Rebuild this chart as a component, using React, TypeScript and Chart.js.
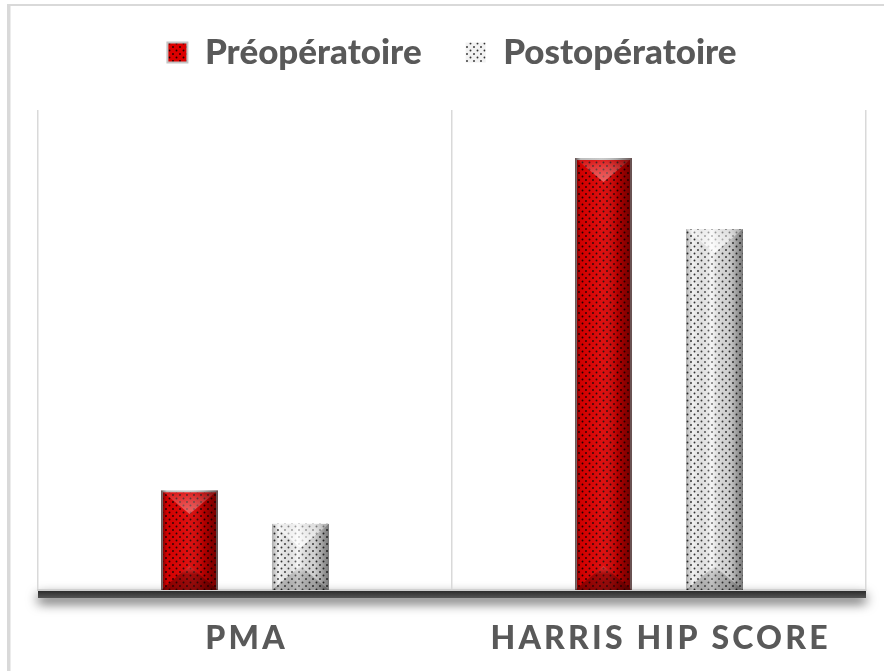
import React, { useEffect, useRef } from 'react';
import { Chart, registerables } from 'chart.js';

Chart.register(...registerables);

const categories = ['PMA', 'HARRIS HIP SCORE'];
const seriesNames = ['Préopératoire', 'Postopératoire'];
const preValues = [20.8, 90];
const postValues = [13.8, 75.2];
const yMin = 0;
const yMax = 100;

function makePattern(base: string, dot: string) {
  const c = document.createElement('canvas');
  c.width = 7;
  c.height = 7;
  const g = c.getContext('2d')!;
  g.fillStyle = base;
  g.fillRect(0, 0, 7, 7);
  g.fillStyle = dot;
  [[1.5, 1.5], [5, 5]].forEach(([x, y]) => {
    g.beginPath();
    g.arc(x, y, 0.95, 0, Math.PI * 2);
    g.fill();
  });
  return g.createPattern(c, 'repeat')!;
}

const framePlugin = {
  id: 'frame',
  beforeDraw(chart: any) {
    const { ctx, width, height, chartArea } = chart;
    ctx.save();
    ctx.fillStyle = '#ffffff';
    ctx.fillRect(0, 0, width, height);
    ctx.fillStyle = '#d9d9d9';
    ctx.fillRect(7, 4, 3.5, height - 4);
    ctx.fillRect(7, 4, width - 7, 2);
    // floor shadow
    ctx.shadowColor = 'rgba(0,0,0,0.7)';
    ctx.shadowBlur = 12;
    ctx.shadowOffsetY = 5;
    const fg = ctx.createLinearGradient(0, chartArea.bottom, 0, chartArea.bottom + 8);
    fg.addColorStop(0, '#262626');
    fg.addColorStop(1, '#555555');
    ctx.fillStyle = fg;
    ctx.fillRect(chartArea.left, chartArea.bottom, chartArea.right - chartArea.left, 8);
    ctx.restore();
  },
};

const bevelPlugin = {
  id: 'bevel',
  afterDatasetsDraw(chart: any) {
    const ctx = chart.ctx;
    chart.data.datasets.forEach((_ds: any, di: number) => {
      const meta = chart.getDatasetMeta(di);
      const isRed = di === 0;
      meta.data.forEach((bar: any) => {
        const { x, y, base, width } = bar.getProps(['x', 'y', 'base', 'width'], true);
        const x0 = x - width / 2;
        const x1 = x + width / 2;
        const y0 = Math.min(y, base);
        const y1 = Math.max(y, base);
        const h = y1 - y0;
        const d = Math.min(width * 0.42, h / 2);
        ctx.save();
        ctx.beginPath();
        ctx.rect(x0, y0, width, h);
        ctx.clip();
        const hg = ctx.createLinearGradient(x0, 0, x1, 0);
        if (isRed) {
          hg.addColorStop(0, 'rgba(40,0,0,0.6)');
          hg.addColorStop(0.1, 'rgba(0,0,0,0.05)');
          hg.addColorStop(0.45, 'rgba(255,255,255,0.06)');
          hg.addColorStop(0.75, 'rgba(0,0,0,0.18)');
          hg.addColorStop(1, 'rgba(40,0,0,0.6)');
        } else {
          hg.addColorStop(0, 'rgba(0,0,0,0.28)');
          hg.addColorStop(0.12, 'rgba(0,0,0,0.0)');
          hg.addColorStop(0.45, 'rgba(255,255,255,0.3)');
          hg.addColorStop(0.75, 'rgba(0,0,0,0.14)');
          hg.addColorStop(1, 'rgba(0,0,0,0.5)');
        }
        ctx.fillStyle = hg;
        ctx.fillRect(x0, y0, width, h);
        // top facet
        ctx.beginPath();
        ctx.moveTo(x0, y0);
        ctx.lineTo(x1, y0);
        ctx.lineTo(x, y0 + d);
        ctx.closePath();
        const tg = ctx.createLinearGradient(0, y0, 0, y0 + d);
        if (isRed) {
          tg.addColorStop(0, 'rgba(255,255,255,0.02)');
          tg.addColorStop(1, 'rgba(255,160,160,0.55)');
        } else {
          tg.addColorStop(0, 'rgba(255,255,255,0.3)');
          tg.addColorStop(1, 'rgba(255,255,255,0.85)');
        }
        ctx.fillStyle = tg;
        ctx.fill();
        // bottom facet
        ctx.beginPath();
        ctx.moveTo(x0, y1);
        ctx.lineTo(x1, y1);
        ctx.lineTo(x, y1 - d);
        ctx.closePath();
        const bg = ctx.createLinearGradient(0, y1 - d, 0, y1);
        if (isRed) {
          bg.addColorStop(0, 'rgba(255,120,120,0.35)');
          bg.addColorStop(0.35, 'rgba(60,0,0,0.35)');
          bg.addColorStop(1, 'rgba(40,0,0,0.45)');
        } else {
          bg.addColorStop(0, 'rgba(255,255,255,0.3)');
          bg.addColorStop(0.35, 'rgba(0,0,0,0.18)');
          bg.addColorStop(1, 'rgba(0,0,0,0.25)');
        }
        ctx.fillStyle = bg;
        ctx.fill();
        ctx.restore();
      });
    });
  },
};

const xLabelPlugin = {
  id: 'xlabels',
  afterDraw(chart: any) {
    const { ctx } = chart;
    const xs = chart.scales.x;
    ctx.save();
    ctx.font = '900 32px Lato';
    (ctx as any).letterSpacing = '3.2px';
    ctx.fillStyle = '#595959';
    ctx.textAlign = 'center';
    ctx.textBaseline = 'middle';
    categories.forEach((lab, i) => {
      ctx.fillText(lab, xs.getPixelForValue(i) + 1.6, 639);
    });
    ctx.restore();
  },
};

export default function App() {
  const ref = useRef<HTMLCanvasElement>(null);
  useEffect(() => {
    const canvas = ref.current!;
    const redPattern = makePattern('#dc0000', 'rgba(0,0,0,0.85)');
    const whitePattern = makePattern('#f2f2f2', 'rgba(0,0,0,0.8)');
    const chart = new Chart(canvas, {
      type: 'bar',
      data: {
        labels: categories,
        datasets: [
          {
            label: seriesNames[0],
            data: preValues,
            backgroundColor: redPattern,
            borderColor: '#c4c4c4',
            borderWidth: 2,
            xAxisID: 'x',
          },
          {
            label: seriesNames[1],
            data: postValues,
            backgroundColor: whitePattern,
            borderColor: '#e0e0e0',
            borderWidth: 0,
            xAxisID: 'x',
          },
        ],
      },
      options: {
        responsive: false,
        animation: false,
        layout: { padding: { top: -9, left: 38, right: 18, bottom: 0 } },
        datasets: {
          bar: { categoryPercentage: 0.536, barPercentage: 0.514 },
        },
        plugins: {
          legend: {
            position: 'top',
            labels: {
              boxWidth: 20,
              boxHeight: 20,
              padding: 44,
              color: '#595959',
              font: { family: 'Lato', weight: '900', size: 35 },
            },
          },
          tooltip: { enabled: false },
        },
        scales: {
          x: {
            grid: { color: '#d9d9d9', lineWidth: 1.5, drawTicks: false, offset: true },
            border: { color: '#d0d0d0', width: 2 },
            ticks: { display: false },
            afterFit: (s: any) => {
              s.height = 81;
            },
          },
          xTop: {
            type: 'category',
            labels: categories,
            position: 'top',
            grid: { display: false },
            border: { display: false },
            ticks: { display: false },
            afterFit: (s: any) => {
              s.height = 30;
            },
          },
          y: { display: false, min: yMin, max: yMax },
        },
      },
      plugins: [framePlugin, bevelPlugin, xLabelPlugin],
    } as any);
    return () => chart.destroy();
  }, []);
  return (
    <div style={{ position: 'fixed', left: 0, top: 0, width: 884, height: 671 }}>
      <canvas ref={ref} width={884} height={671} />
    </div>
  );
}
